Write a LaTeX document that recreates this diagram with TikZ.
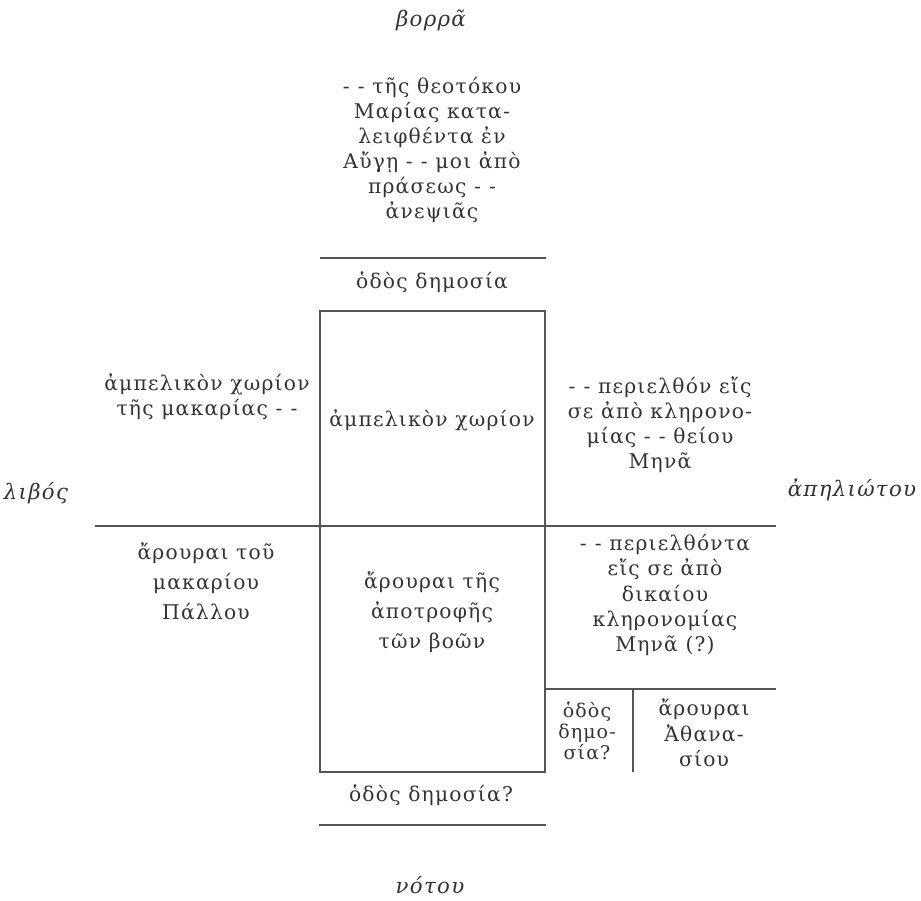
\documentclass[tikz,border=0pt]{standalone}
\usepackage{fontspec}
\setmainfont{DejaVu Serif}[LetterSpace=6]
\definecolor{ink}{HTML}{333333}
\definecolor{rule}{HTML}{555555}
\newcommand{\dd}{-\hspace{0.4em}-}
\begin{document}
\begin{tikzpicture}[x=0.75pt,y=-0.75pt,
  txt/.style={align=center,text=ink,inner sep=0pt,font=\fontsize{15.2}{18.8}\selectfont},
  wide/.style={align=center,text=ink,inner sep=0pt,font=\fontsize{15.2}{22.5}\selectfont},
  small/.style={align=center,text=ink,inner sep=0pt,font=\fontsize{14.2}{16}\selectfont},
  dir/.style={text=ink,inner sep=0pt,font=\fontsize{16}{18}\selectfont\itshape},
  ln/.style={draw=rule,line width=1.3pt}]
\useasboundingbox (0,0) rectangle (921,900);
% lines
\draw[ln] (320,258) -- (546,258);
\draw[ln] (320,311) rectangle (545,772);
\draw[ln] (95,526) -- (776,526);
\draw[ln] (545,689) -- (776,689);
\draw[ln] (633,689) -- (633,772);
\draw[ln] (319,825) -- (546,825);
% directions
\node[dir] (n) at (431,20) {βορρᾶ};
\node[dir] (w) at (36,493) {λιβός};
\node[dir] (e) at (852,490) {ἀπηλιώτου};
\node[dir] (s) at (430,885) {νότου};
% texts
\node[txt] (t1) at (432,150) {\dd{} τῆς θεοτόκου\\Μαρίας κατα-\\λειφθέντα ἐν\\Αὔγῃ \dd{} μοι ἀπὸ\\πράσεως \dd\\ἀνεψιᾶς};
\node[txt] (road1) at (432,282) {ὁδὸς δημοσία};
\node[txt] (vine) at (432,420) {ἀμπελικὸν χωρίον};
\node[txt] (lu) at (207,397) {ἀμπελικὸν χωρίον\\τῆς μακαρίας \dd};
\node[txt] (ru) at (660,425) {\dd{} περιελθόν εἴς\\σε ἀπὸ κληρονο-\\μίας \dd{} θείου\\Μηνᾶ};
\node[wide] (ll) at (206,581) {ἄρουραι τοῦ\\μακαρίου\\Πάλλου};
\node[wide] (ml) at (432,612) {ἄρουραι τῆς\\ἀποτροφῆς\\τῶν βοῶν};
\node[txt] (rl) at (665,595) {\dd{} περιελθόντα\\εἴς σε ἀπὸ\\δικαίου\\κληρονομίας\\Μηνᾶ (?)};
\node[small] (road2) at (587,731) {ὁδὸς\\δημο-\\σία?};
\node[txt] (ath) at (704,733) {ἄρουραι\\Ἀθανα-\\σίου};
\node[txt] (road3) at (431,795) {ὁδὸς δημοσία?};
\end{tikzpicture}
\end{document}
